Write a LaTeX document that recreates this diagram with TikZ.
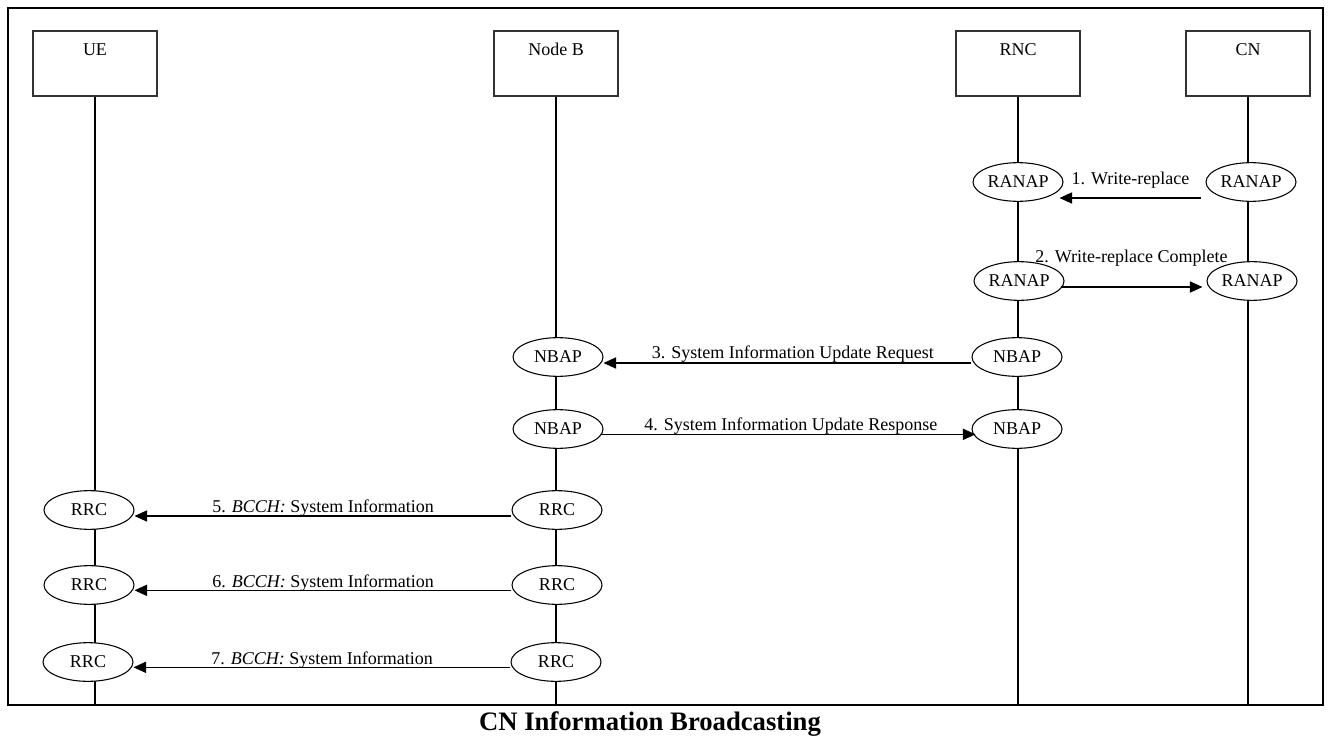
\documentclass[tikz,border=0pt]{standalone}
\usepackage{fontspec}
\setmainfont{Liberation Serif}
\usetikzlibrary{arrows.meta,shapes.geometric}
\begin{document}
\begin{tikzpicture}[x=0.75pt,y=-0.75pt,
  txt/.style={font=\fontsize{13.5}{16}\selectfont},
  entity/.style={draw=black!80, line width=1.1pt, minimum width=93pt,
    minimum height=48.75pt, inner sep=0pt},
  entitylabel/.style={txt, anchor=base, yshift=-18.75pt, inner sep=0pt},
  proto/.style={ellipse, draw, line width=0.8pt, fill=white,
    minimum width=67.5pt, minimum height=29pt, inner sep=0pt, txt},
  lifeline/.style={line width=0.8pt},
  msg/.style={line width=0.8pt, -{Triangle[length=9.5pt,width=8.5pt]}},
  msglabel/.style={txt, anchor=base, inner sep=0pt, midway},
]
\useasboundingbox (0,0) rectangle (1330,735);

% outer frame
\draw[line width=1.1pt] (8,8) rectangle (1323,705);
\coordinate (floor) at (0,705);

% entities
\node[entity, label={[entitylabel]north:UE}]     (ue)  at (95,63.5)   {};
\node[entity, label={[entitylabel]north:Node B}] (nb)  at (556,63.5)  {};
\node[entity, label={[entitylabel]north:RNC}]    (rnc) at (1018,63.5) {};
\node[entity, label={[entitylabel]north:CN}]     (cn)  at (1248,63.5) {};

% lifelines
\foreach \n in {ue,nb,rnc,cn}
  \draw[lifeline] (\n.south) -- (\n.south |- floor);

% protocol endpoints
\node[proto] (rnc1) at (1018,182) {RANAP};
\node[proto] (cn1)  at (1251,182) {RANAP};
\node[proto] (rnc2) at (1019,281) {RANAP};
\node[proto] (cn2)  at (1252,281) {RANAP};
\node[proto] (nb3)  at (558,357)  {NBAP};
\node[proto] (rnc3) at (1017,357) {NBAP};
\node[proto] (nb4)  at (558,429)  {NBAP};
\node[proto] (rnc4) at (1017,429) {NBAP};
\node[proto] (ue5)  at (89,510)   {RRC};
\node[proto] (nb5)  at (557,510)  {RRC};
\node[proto] (ue6)  at (89,585)   {RRC};
\node[proto] (nb6)  at (557,585)  {RRC};
\node[proto] (ue7)  at (88,662)   {RRC};
\node[proto] (nb7)  at (556,662)  {RRC};

% messages
\draw[msg] ([xshift=-3pt,yshift=-12pt]cn1.west) -- ([xshift=-3pt,yshift=-12pt]rnc1.east)
  node[msglabel, yshift=10.5pt] {1. Write-replace};
\draw[msg] ([xshift=-3pt,yshift=-4.5pt]rnc2.east) -- ([xshift=-3pt,yshift=-4.5pt]cn2.west)
  node[msglabel, yshift=18.75pt] {2. Write-replace Complete};
\draw[msg] ([yshift=-4.5pt]rnc3.west) -- ([yshift=-4.5pt]nb3.east)
  node[msglabel, xshift=4pt, yshift=3.4pt] {3. System Information Update Request};
\draw[msg] ([xshift=-2pt,yshift=-4pt]nb4.east) -- ([xshift=3pt,yshift=-4pt]rnc4.west)
  node[msglabel, xshift=2pt, yshift=3pt] {4. System Information Update Response};
\draw[msg] ([yshift=-4.5pt]nb5.west) -- ([yshift=-4.5pt]ue5.east)
  node[msglabel, yshift=2.4pt] {5. \textit{BCCH:} System Information};
\draw[msg] ([yshift=-4pt]nb6.west) -- ([yshift=-4pt]ue6.east)
  node[msglabel, yshift=2.4pt] {6. \textit{BCCH:} System Information};
\draw[msg] ([yshift=-4pt]nb7.west) -- ([yshift=-4pt]ue7.east)
  node[msglabel, yshift=2.4pt] {7. \textit{BCCH:} System Information};

% caption
\node[font=\fontsize{20}{24}\selectfont\bfseries, anchor=base, inner sep=0pt]
  (caption) at (650,730) {CN Information Broadcasting};
\end{tikzpicture}
\end{document}
